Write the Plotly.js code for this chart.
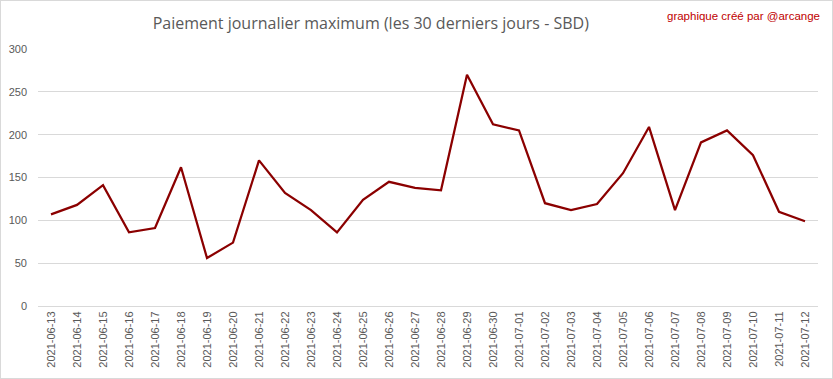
<!DOCTYPE html>
<html><head><meta charset="utf-8">
<script src="https://cdn.plot.ly/plotly-3.0.1.min.js"></script>
<style>html,body{margin:0;padding:0;background:#fff;}#wrap{width:831px;height:377px;border:1px solid #d9d9d9;}#chart{width:831px;height:377px;}</style>
</head><body><div id="wrap"><div id="chart"></div></div>
<script>
const dates = ["2021-06-13","2021-06-14","2021-06-15","2021-06-16","2021-06-17","2021-06-18","2021-06-19","2021-06-20","2021-06-21","2021-06-22","2021-06-23","2021-06-24","2021-06-25","2021-06-26","2021-06-27","2021-06-28","2021-06-29","2021-06-30","2021-07-01","2021-07-02","2021-07-03","2021-07-04","2021-07-05","2021-07-06","2021-07-07","2021-07-08","2021-07-09","2021-07-10","2021-07-11","2021-07-12"];
const maxPayout = [107,118,141,86,91,162,56,74,170,132,112,86,124,145,138,135,270,212,205,120,112,119,155,209,112,191,205,176,110,99];
const yTicks = [0,50,100,150,200,250,300];
const titleText = "Paiement journalier maximum (les 30 derniers jours - SBD)";
const creditText = "graphique créé par @arcange";

Plotly.newPlot("chart", [{
  x: dates, y: maxPayout, type: "scatter", mode: "lines",
  line: {color: "#8B0000", width: 2.25}, hoverinfo: "x+y"
}], {
  width: 831, height: 377,
  margin: {l: 37, r: 14, t: 48, b: 72},
  paper_bgcolor: "#fff", plot_bgcolor: "#fff",
  font: {family: "Liberation Sans Narrow, Liberation Sans, Arial", color: "#595959", size: 11},
  title: {text: titleText, x: 0.445, xanchor: "center", y: 0.94, yanchor: "middle",
          font: {family: "Open Sans, Liberation Sans", size: 16, color: "#595959"}},
  xaxis: {type: "category", tickangle: -90, tickfont: {size: 11, color: "#595959"},
          showgrid: false, showline: true, linecolor: "#d9d9d9", ticks: "", range: [-0.5, 29.5], fixedrange: true},
  yaxis: {range: [0, 300], tickvals: yTicks, showgrid: true, gridcolor: "#d9d9d9", zeroline: true, zerolinecolor: "#d9d9d9",
          showline: false, ticks: "", ticklabelstandoff: 10, tickfont: {size: 11, color: "#595959"}, fixedrange: true},
  showlegend: false,
  annotations: [{text: creditText, xref: "paper", yref: "paper", x: 1.005, y: 1.13, xanchor: "right", yanchor: "middle",
                 showarrow: false, font: {family: "Liberation Sans Narrow, Liberation Sans, Arial", size: 11.5, color: "#C00000"}}]
}, {displayModeBar: false});
</script></body></html>
